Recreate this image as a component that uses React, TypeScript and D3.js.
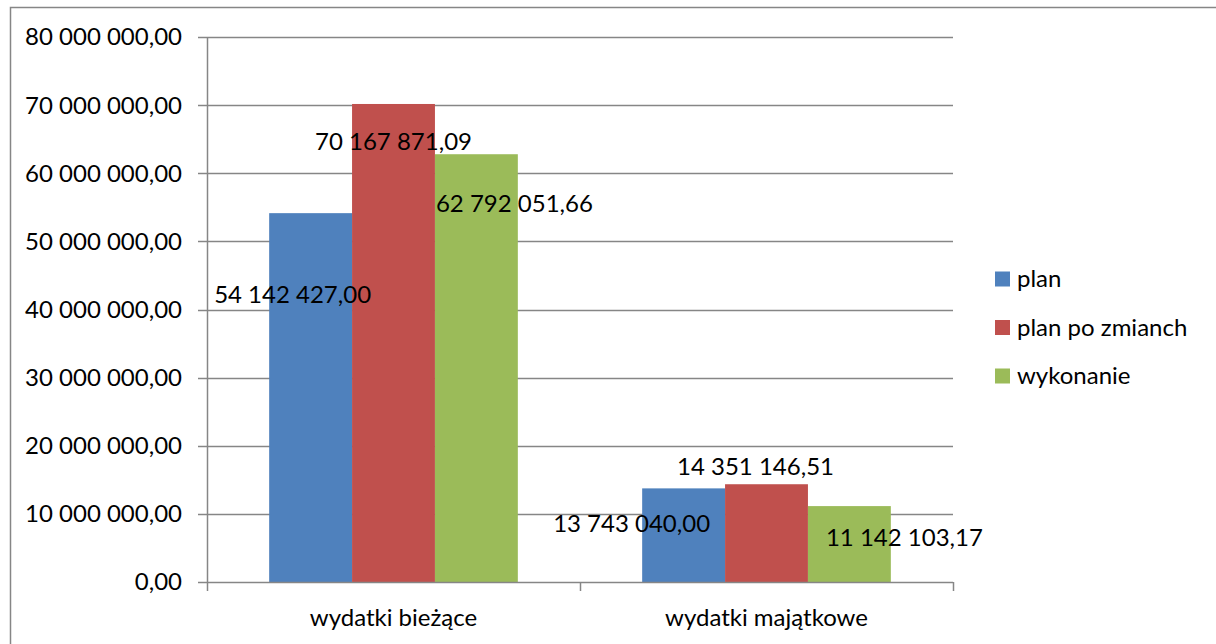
import React, { useEffect, useRef } from 'react';
import * as d3 from 'd3';

// Excel-style clustered column chart: expenditures plan vs. plan after changes vs. execution
const categories = ['wydatki bieżące', 'wydatki majątkowe'];
const seriesNames = ['plan', 'plan po zmianch', 'wykonanie'];
const planValues = [54142427.0, 13743040.0];
const planChangedValues = [70167871.09, 14351146.51];
const executionValues = [62792051.66, 11142103.17];
const yTicks = [0, 10000000, 20000000, 30000000, 40000000, 50000000, 60000000, 70000000, 80000000];

// Excel placed the data labels oddly; offsets (px) from each bar's top centre, per series / category
const labelOffsets = [
  [[-18, 81], [-52, 35]],
  [[0, 38], [-11, -18]],
  [[38, 49], [55, 32]],
];

const colors = ['#4F81BD', '#C0504D', '#9BBB59'];

const fmt = (v: number) => {
  const [intPart, decPart] = v.toFixed(2).split('.');
  return intPart.replace(/\B(?=(\d{3})+(?!\d))/g, ' ') + ',' + decPart;
};

export default function App() {
  const ref = useRef<SVGSVGElement>(null);
  const width = 1216;
  const height = 644;
  const margin = { top: 37, right: 263, bottom: 62, left: 207 };
  const font = 'Lato, "Open Sans", sans-serif';
  const fontSize = '24px';

  useEffect(() => {
    if (!ref.current) return;
    const svg = d3.select(ref.current);
    svg.selectAll('*').remove();

    const series = [planValues, planChangedValues, executionValues];
    const innerW = width - margin.left - margin.right;
    const innerH = height - margin.top - margin.bottom;

    // chart border
    svg.append('rect')
      .attr('x', 10.5).attr('y', 7.5)
      .attr('width', width + 10).attr('height', height + 10)
      .attr('fill', 'none').attr('stroke', '#868686').attr('stroke-width', 1.5);

    const g = svg.append('g').attr('transform', `translate(${margin.left},${margin.top})`);

    const y = d3.scaleLinear().domain([0, 80000000]).range([innerH, 0]);
    const x0 = d3.scaleBand().domain(categories).range([0, innerW]).paddingInner(0).paddingOuter(0);
    // gap width 150% -> 3 bars + 1.5 bar widths per band
    const barW = x0.bandwidth() / 4.5;

    // gridlines
    g.selectAll('.grid')
      .data(yTicks.filter(t => t > 0))
      .enter().append('line')
      .attr('x1', 0).attr('x2', innerW)
      .attr('y1', d => Math.round(y(d)) + 0.5).attr('y2', d => Math.round(y(d)) + 0.5)
      .attr('stroke', '#868686').attr('stroke-width', 1.5);

    // bars
    series.forEach((vals, si) => {
      g.selectAll(`.bar-${si}`)
        .data(vals)
        .enter().append('rect')
        .attr('x', (d, ci) => x0(categories[ci])! + barW * 0.75 + si * barW)
        .attr('y', d => y(d))
        .attr('width', barW)
        .attr('height', d => innerH - y(d))
        .attr('fill', colors[si]);
    });

    // y axis
    g.append('line')
      .attr('x1', 0.5).attr('x2', 0.5).attr('y1', 0).attr('y2', innerH)
      .attr('stroke', '#868686').attr('stroke-width', 1.5);
    g.selectAll('.ytick')
      .data(yTicks)
      .enter().append('line')
      .attr('x1', -9).attr('x2', 0)
      .attr('y1', d => Math.round(y(d)) + 0.5).attr('y2', d => Math.round(y(d)) + 0.5)
      .attr('stroke', '#868686').attr('stroke-width', 1.5);
    g.selectAll('.ylabel')
      .data(yTicks)
      .enter().append('text')
      .attr('x', -25).attr('y', d => y(d))
      .attr('dy', '0.35em')
      .attr('text-anchor', 'end')
      .style('font-family', font).style('font-size', fontSize).style('fill', '#000')
      .text(d => fmt(d));

    // x axis
    g.append('line')
      .attr('x1', 0).attr('x2', innerW).attr('y1', innerH + 0.5).attr('y2', innerH + 0.5)
      .attr('stroke', '#868686').attr('stroke-width', 1.5);
    const xTickPos = [0, ...categories.map(c => x0(c)! + x0.bandwidth())];
    g.selectAll('.xtick')
      .data(xTickPos)
      .enter().append('line')
      .attr('x1', d => d + 0.5).attr('x2', d => d + 0.5)
      .attr('y1', innerH).attr('y2', innerH + 9)
      .attr('stroke', '#868686').attr('stroke-width', 1.5);
    g.selectAll('.xlabel')
      .data(categories)
      .enter().append('text')
      .attr('x', d => x0(d)! + x0.bandwidth() / 2)
      .attr('y', innerH + 36)
      .attr('dy', '0.35em')
      .attr('text-anchor', 'middle')
      .style('font-family', font).style('font-size', fontSize).style('fill', '#000')
      .text(d => d);

    // data labels
    series.forEach((vals, si) => {
      g.selectAll(`.dl-${si}`)
        .data(vals)
        .enter().append('text')
        .attr('x', (d, ci) => x0(categories[ci])! + barW * 0.75 + si * barW + barW / 2 + labelOffsets[si][ci][0])
        .attr('y', (d, ci) => y(d) + labelOffsets[si][ci][1])
        .attr('dy', '0.35em')
        .attr('text-anchor', 'middle')
        .style('font-family', font).style('font-size', fontSize).style('fill', '#000')
        .text(d => fmt(d));
    });

    // legend
    const legend = svg.append('g').attr('transform', 'translate(995, 279)');
    const items = legend.selectAll('.legend-item')
      .data(seriesNames)
      .enter().append('g')
      .attr('transform', (d, i) => `translate(0, ${i * 48.5})`);
    items.append('rect')
      .attr('x', 0).attr('y', -7.5)
      .attr('width', 15).attr('height', 15)
      .attr('fill', (d, i) => colors[i]);
    items.append('text')
      .attr('x', 22).attr('y', 0)
      .attr('dy', '0.35em')
      .style('font-family', font).style('font-size', fontSize).style('fill', '#000')
      .text(d => d);
  }, []);

  return (
    <div style={{ position: 'absolute', left: 0, top: 0, width, height, background: '#fff', overflow: 'hidden' }}>
      <svg ref={ref} width={width} height={height} style={{ display: 'block' }} />
    </div>
  );
}
